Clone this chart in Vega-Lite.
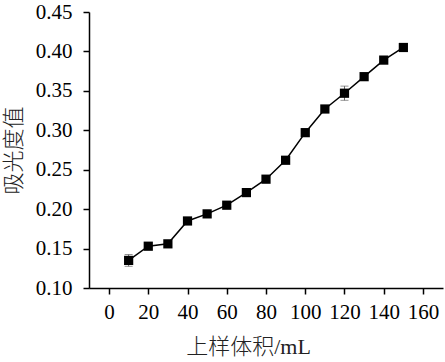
{
  "$schema": "https://vega.github.io/schema/vega-lite/v6.json",
  "width": 354,
  "height": 276,
  "autosize": {"type": "none"},
  "padding": {"left": 89, "top": 12, "right": 2, "bottom": 74},
  "background": "white",
  "config": {
    "view": {"stroke": null},
    "font": "Liberation Serif",
    "axis": {
      "grid": false,
      "domainColor": "black",
      "domainWidth": 1.5,
      "tickColor": "black",
      "tickWidth": 1.5,
      "tickSize": 6,
      "labelFont": "Liberation Serif",
      "labelFontSize": 21,
      "labelColor": "black",
      "titleFont": "Liberation Serif, Noto Sans CJK SC",
      "titleFontSize": 22,
      "titleFontWeight": 300,
      "titleColor": "#222"
    }
  },
  "data": {
    "values": [
      {"v": 10, "a": 0.135, "e": 0.0075},
      {"v": 20, "a": 0.153, "e": 0.004},
      {"v": 30, "a": 0.156, "e": 0.002},
      {"v": 40, "a": 0.185, "e": 0.003},
      {"v": 50, "a": 0.194, "e": 0.002},
      {"v": 60, "a": 0.205, "e": 0.002},
      {"v": 70, "a": 0.221, "e": 0.002},
      {"v": 80, "a": 0.238, "e": 0.002},
      {"v": 90, "a": 0.262, "e": 0.004},
      {"v": 100, "a": 0.297, "e": 0.003},
      {"v": 110, "a": 0.327, "e": 0.004},
      {"v": 120, "a": 0.347, "e": 0.009},
      {"v": 130, "a": 0.368, "e": 0.003},
      {"v": 140, "a": 0.389, "e": 0.003},
      {"v": 150, "a": 0.405, "e": 0.003}
    ]
  },
  "encoding": {
    "x": {
      "field": "v",
      "type": "quantitative",
      "scale": {"domain": [-10.2, 170.2], "nice": false, "zero": false},
      "axis": {
        "values": [0, 20, 40, 60, 80, 100, 120, 140, 160],
        "title": "上样体积/mL",
        "labelPadding": 7,
        "titlePadding": 14,
        "titleX": 159
      }
    },
    "y": {
      "field": "a",
      "type": "quantitative",
      "scale": {"domain": [0.1, 0.45], "nice": false, "zero": false},
      "axis": {
        "values": [0.1, 0.15, 0.2, 0.25, 0.3, 0.35, 0.4, 0.45],
        "format": ".2f",
        "title": "吸光度值",
        "labelPadding": 11,
        "titlePadding": 10
      }
    }
  },
  "layer": [
    {
      "mark": {"type": "errorbar", "ticks": {"size": 8, "color": "#666"}, "rule": {"color": "#666", "strokeWidth": 1}},
      "encoding": {
        "y": {"field": "a", "type": "quantitative", "title": "吸光度值"},
        "yError": {"field": "e"}
      }
    },
    {
      "mark": {"type": "line", "color": "black", "strokeWidth": 1.5}
    },
    {
      "mark": {"type": "square", "color": "black", "filled": true, "opacity": 1, "size": 85}
    }
  ]
}
